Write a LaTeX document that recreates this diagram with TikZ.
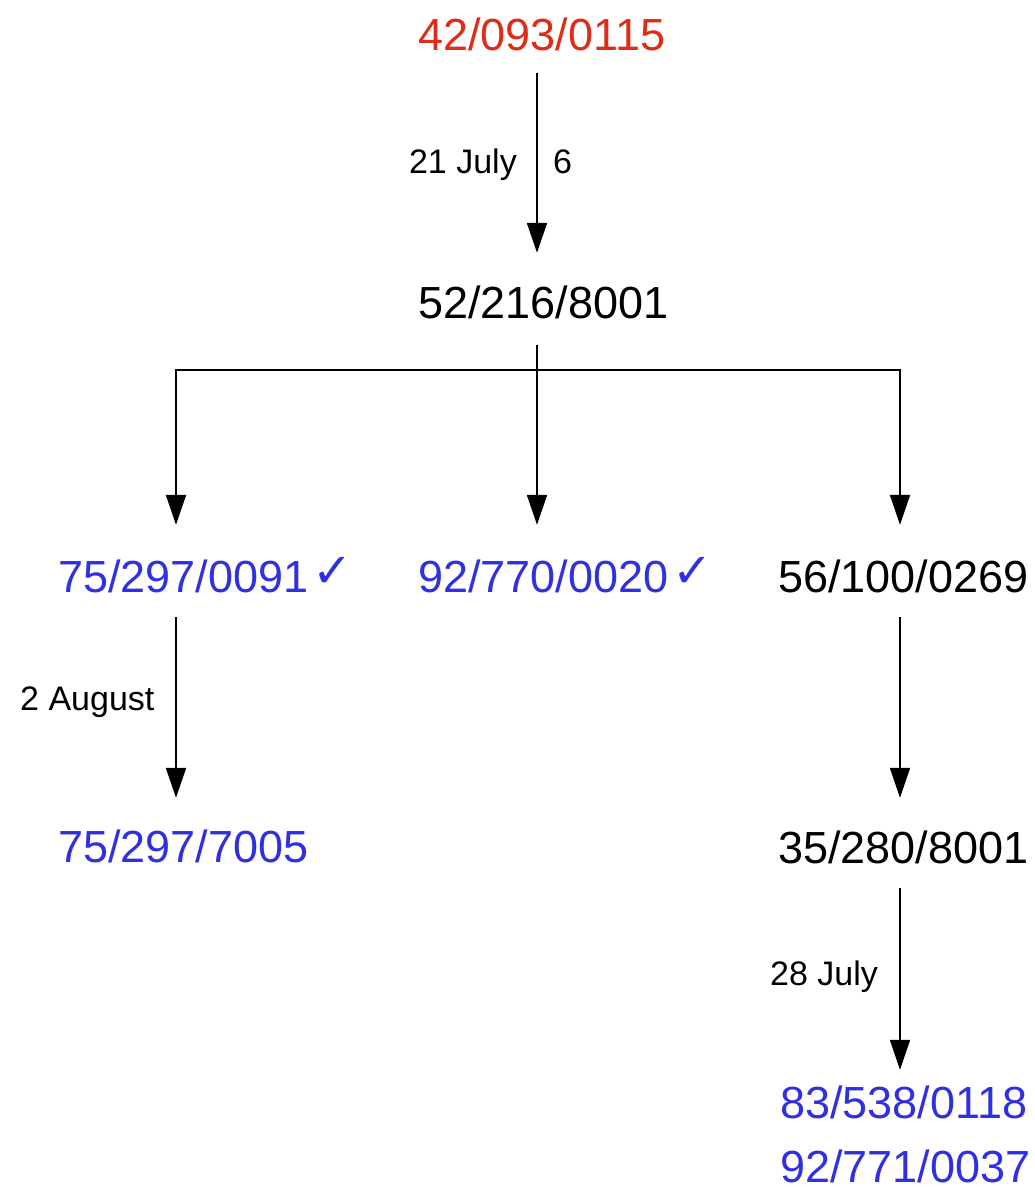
\documentclass[tikz,border=0pt]{standalone}
\usepackage{fontspec}
\setmainfont{Liberation Sans}
\newfontfamily\checkfont{DejaVu Sans}
\usetikzlibrary{arrows.meta}
\definecolor{numred}{RGB}{222,44,22}
\definecolor{numblue}{RGB}{48,48,226}
\tikzset{
  num/.style={inner sep=0pt, anchor=base west, font=\fontsize{45}{54}\selectfont, text height=33pt, text depth=0pt},
  lbl/.style={inner sep=0pt, font=\fontsize{34}{40}\selectfont},
  arr/.style={line width=2pt, -{Triangle[width=20pt,length=30pt]}},
  link/.style={line width=2pt},
}
\newcommand{\chkmark}{\hspace{4pt}\raisebox{5pt}{\checkfont\fontsize{48}{48}\selectfont ✓}}
\begin{document}
\begin{tikzpicture}[x=1pt,y=-1pt]
\useasboundingbox[fill=white] (0,0) rectangle (1034,1189);
\coordinate (cL) at (176,0);
\coordinate (cM) at (537,0);
\coordinate (cR) at (900,0);
\coordinate (bus) at (0,370);

\node[num, text=numred] (n42) at (418,50) {42/093/0115};
\node[num] (n52) at (418,318) {52/216/8001};
\node[num, text=numblue] (n75a) at (58,592) {75/297/0091\chkmark};
\node[num, text=numblue] (n92a) at (418,592) {92/770/0020\chkmark};
\node[num] (n56) at (778,592) {56/100/0269};
\node[num, text=numblue] (n75b) at (58,862) {75/297/7005};
\node[num] (n35) at (778,863) {35/280/8001};
\node[num, text=numblue] (n83) at (780,1118) {83/538/0118};
\node[num, text=numblue] (n92b) at (780,1182) {92/771/0037};

\node[lbl, anchor=base east] (l21) at (517,173) {21 July};
\node[lbl, anchor=base west] (l6) at (553,173) {6};
\node[lbl, anchor=base west] (l2a) at (20,710) {2 August};
\node[lbl, anchor=base west] (l28) at (770,985) {28 July};

\draw[arr, shorten <=23pt, shorten >=32pt] (n42.south -| cM) -- (n52.north -| cM);
\draw[arr, shorten <=27pt, shorten >=34pt] (n52.south -| cM) -- (n92a.north -| cM);
\draw[arr, shorten >=34pt] (bus -| cM) -| (n75a.north -| cL);
\draw[arr, shorten >=34pt] (bus -| cM) -| (n56.north -| cR);
\draw[arr, shorten <=25pt, shorten >=31pt] (n75a.south -| cL) -- (n75b.north -| cL);
\draw[arr, shorten <=25pt, shorten >=32pt] (n56.south -| cR) -- (n35.north -| cR);
\draw[arr, shorten <=25pt, shorten >=15pt] (n35.south -| cR) -- (n83.north -| cR);
\end{tikzpicture}
\end{document}
